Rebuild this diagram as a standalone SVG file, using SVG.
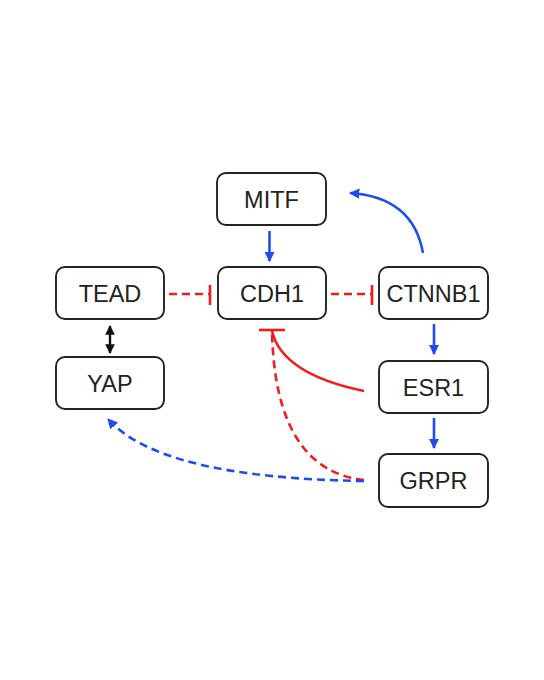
<svg xmlns="http://www.w3.org/2000/svg" width="544" height="680" viewBox="0 0 544 680">
<defs>
<style>
.box{fill:#fff;stroke:#222;stroke-width:1.9}
.lbl{font-family:"Liberation Sans",Arial,sans-serif;font-size:23.5px;fill:#222;text-anchor:middle}
.blue{stroke:#1f4cf0;stroke-width:2.6;fill:none}
.red{stroke:#f21c1c;stroke-width:2.6;fill:none}
.dash{stroke-dasharray:8 5}
</style>
<marker id="ab" viewBox="0 0 10 10" refX="9" refY="5" markerWidth="4" markerHeight="4" orient="auto" markerUnits="strokeWidth"><path d="M0,0 L10,5 L0,10 Z" fill="#1f4cf0"/></marker>
<marker id="ak" viewBox="0 0 10 10" refX="9" refY="5" markerWidth="4" markerHeight="4" orient="auto-start-reverse" markerUnits="strokeWidth"><path d="M0,0 L10,5 L0,10 Z" fill="#111"/></marker>
</defs>
<rect width="544" height="680" fill="#fff"/>
<g id="connectors">
<line class="blue" x1="269.5" y1="231" x2="269.5" y2="261" marker-end="url(#ab)"/>
<path class="blue" d="M423,253 Q413,197 350,193" marker-end="url(#ab)"/>
<line class="blue" x1="434" y1="324" x2="434" y2="354" marker-end="url(#ab)"/>
<line class="blue" x1="434" y1="418" x2="434" y2="448" marker-end="url(#ab)"/>
<line x1="110" y1="326" x2="110" y2="353" stroke="#111" stroke-width="2.4" marker-start="url(#ak)" marker-end="url(#ak)"/>
<line class="red dash" x1="169" y1="294" x2="209" y2="294"/>
<line class="red" x1="210" y1="285" x2="210" y2="305"/>
<line class="red dash" x1="331" y1="294" x2="371" y2="294"/>
<line class="red" x1="372" y1="285" x2="372" y2="305"/>
<line class="red" x1="259" y1="330" x2="285" y2="330"/>
<path class="red" d="M364,391 Q282,374 272,331"/>
<path class="red dash" d="M364,480 Q275,470 272,331"/>
<path class="blue dash" d="M364,481 Q160,478 108,419" marker-end="url(#ab)"/>
</g>
<g id="MITF"><rect class="box" x="217" y="173" width="109" height="52" rx="9"/><text class="lbl" x="271.5" y="207.5">MITF</text></g>
<g id="TEAD"><rect class="box" x="56" y="267" width="108" height="52" rx="9"/><text class="lbl" x="110" y="301.5">TEAD</text></g>
<g id="CDH1"><rect class="box" x="218" y="267" width="108" height="52" rx="9"/><text class="lbl" x="272" y="301.5">CDH1</text></g>
<g id="CTNNB1"><rect class="box" x="379" y="267" width="109" height="52" rx="9"/><text class="lbl" x="433.5" y="301.5">CTNNB1</text></g>
<g id="YAP"><rect class="box" x="56" y="357" width="108" height="52" rx="9"/><text class="lbl" x="110" y="391.5">YAP</text></g>
<g id="ESR1"><rect class="box" x="379" y="361" width="109" height="52" rx="9"/><text class="lbl" x="433.5" y="395.5">ESR1</text></g>
<g id="GRPR"><rect class="box" x="379" y="454" width="109" height="53" rx="9"/><text class="lbl" x="433.5" y="488.5">GRPR</text></g>
</svg>
